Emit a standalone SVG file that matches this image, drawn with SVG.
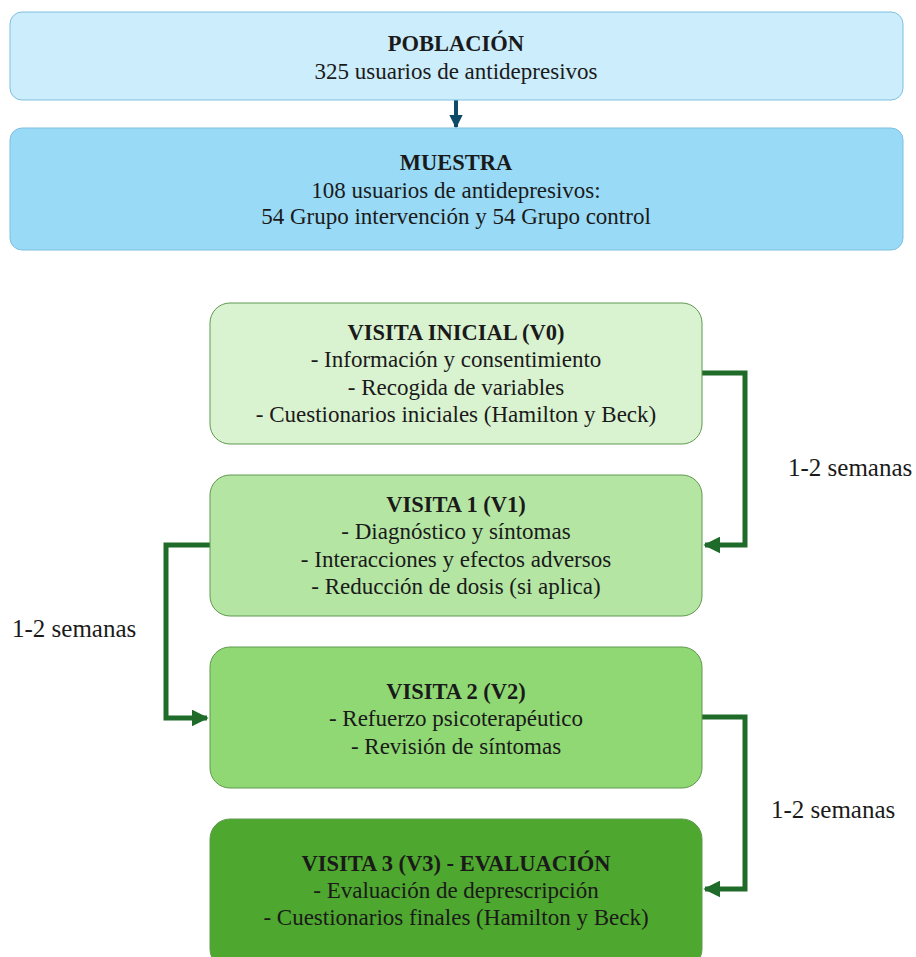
<svg xmlns="http://www.w3.org/2000/svg" width="916" height="957" viewBox="0 0 916 957">
<defs>
<style>
text{font-family:"Liberation Serif","Times New Roman",serif;font-size:23px;fill:#1a1a1a;text-anchor:middle}
.b{font-weight:bold;font-size:22.5px}
.lbl{text-anchor:start;font-size:25px}
.c{fill:none;stroke:#1e6b2a;stroke-width:5}
.blue{stroke:#7fbfe0;stroke-width:1}
.green{stroke:#5f9a4e;stroke-width:1}
</style>
<marker id="ga" viewBox="0 0 10 10" refX="9" refY="5" markerWidth="3.4" markerHeight="3.4" orient="auto" markerUnits="strokeWidth">
<path d="M0,0 L10,5 L0,10 z" fill="#1e6b2a"/>
</marker>
<marker id="ba" viewBox="0 0 10 10" refX="9" refY="5" markerWidth="3.4" markerHeight="3.4" orient="auto" markerUnits="strokeWidth">
<path d="M0,0 L10,5 L0,10 z" fill="#0f4a66"/>
</marker>
</defs>
<rect width="916" height="957" fill="#fff"/>
<g id="connectors">
<line x1="456" y1="100" x2="456" y2="127" stroke="#0f4a66" stroke-width="4" marker-end="url(#ba)"/>
<path class="c" d="M702,373 H745 V545 H705" marker-end="url(#ga)"/>
<path class="c" d="M210,545 H166 V718 H207" marker-end="url(#ga)"/>
<path class="c" d="M702,717 H745 V889 H705" marker-end="url(#ga)"/>
</g>
<g id="poblacion">
<rect x="10" y="12" width="893" height="88" rx="12" fill="#ccedfb" class="blue"/>
<text x="456" y="51" class="b">POBLACIÓN</text>
<text x="456" y="79">325 usuarios de antidepresivos</text>
</g>
<g id="muestra">
<rect x="10" y="128" width="893" height="122" rx="12" fill="#99dbf6" class="blue"/>
<text x="456" y="170" class="b">MUESTRA</text>
<text x="456" y="198">108 usuarios de antidepresivos:</text>
<text x="456" y="224">54 Grupo intervención y 54 Grupo control</text>
</g>
<g id="v0">
<rect x="210" y="303" width="492" height="141" rx="20" fill="#d9f2d0" class="green"/>
<text x="456" y="340" class="b">VISITA INICIAL (V0)</text>
<text x="456" y="367">- Información y consentimiento</text>
<text x="456" y="395">- Recogida de variables</text>
<text x="456" y="422">- Cuestionarios iniciales (Hamilton y Beck)</text>
</g>
<g id="v1">
<rect x="210" y="475" width="492" height="141" rx="20" fill="#b4e5a2" class="green"/>
<text x="456" y="512" class="b">VISITA 1 (V1)</text>
<text x="456" y="539">- Diagnóstico y síntomas</text>
<text x="456" y="567">- Interacciones y efectos adversos</text>
<text x="456" y="594">- Reducción de dosis (si aplica)</text>
</g>
<g id="v2">
<rect x="210" y="647" width="492" height="141" rx="20" fill="#8fd873" class="green"/>
<text x="456" y="699" class="b">VISITA 2 (V2)</text>
<text x="456" y="726">- Refuerzo psicoterapéutico</text>
<text x="456" y="754">- Revisión de síntomas</text>
</g>
<g id="v3">
<rect x="210" y="819" width="492" height="150" rx="20" fill="#4ea72e" class="green"/>
<text x="456" y="871" class="b">VISITA 3 (V3) - EVALUACIÓN</text>
<text x="456" y="898">- Evaluación de deprescripción</text>
<text x="456" y="925">- Cuestionarios finales (Hamilton y Beck)</text>
</g>
<g id="labels">
<text x="788" y="476" class="lbl">1-2 semanas</text>
<text x="12" y="637" class="lbl">1-2 semanas</text>
<text x="771" y="818" class="lbl">1-2 semanas</text>
</g>
</svg>
